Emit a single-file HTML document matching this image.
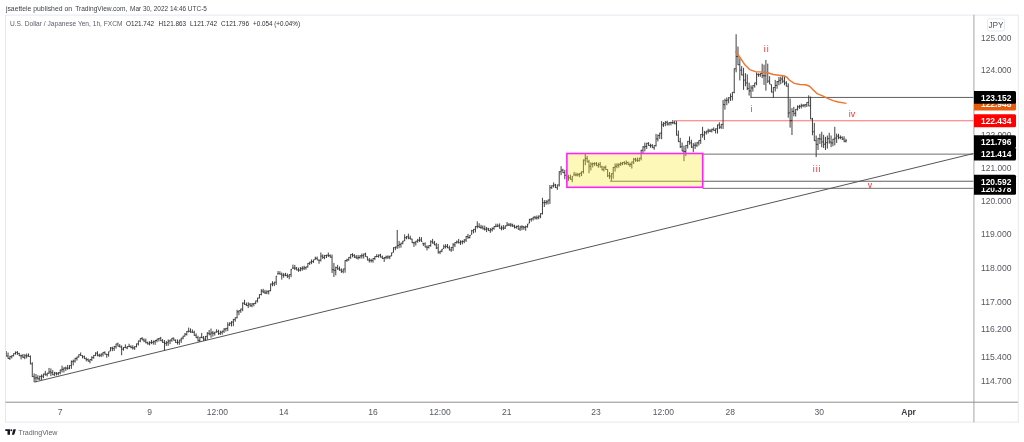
<!DOCTYPE html>
<html><head><meta charset="utf-8"><style>
html,body{margin:0;padding:0;background:#fff;width:1024px;height:442px;overflow:hidden;position:relative}
svg text{font-family:"Liberation Sans", sans-serif}
svg{will-change:transform}
</style></head><body>
<svg width="1024" height="442" viewBox="0 0 1024 442" style="position:absolute;left:0;top:0">
<rect x="5.5" y="15.1" width="1012.8" height="407.0" fill="#fff" stroke="#e6e8ef" stroke-width="1"/>
<text x="5.9" y="10.9" font-size="7.9" fill="#3d3f46" textLength="66.1" lengthAdjust="spacingAndGlyphs">jsaettele published on</text>
<text x="75.2" y="10.9" font-size="7.9" fill="#3d3f46" textLength="52.2" lengthAdjust="spacingAndGlyphs">TradingView.com,</text>
<text x="130.0" y="10.9" font-size="7.9" fill="#3d3f46" textLength="76.9" lengthAdjust="spacingAndGlyphs">Mar 30, 2022 14:46 UTC-5</text>
<text x="10" y="25.9" font-size="7.5" fill="#5d606b" textLength="112.5" lengthAdjust="spacingAndGlyphs">U.S. Dollar / Japanese Yen, 1h, FXCM</text>
<text x="126" y="25.9" font-size="7.5" fill="#2a2d35" textLength="28" lengthAdjust="spacingAndGlyphs">O121.742</text>
<text x="158.5" y="25.9" font-size="7.5" fill="#2a2d35" textLength="27.5" lengthAdjust="spacingAndGlyphs">H121.863</text>
<text x="190" y="25.9" font-size="7.5" fill="#2a2d35" textLength="27" lengthAdjust="spacingAndGlyphs">L121.742</text>
<text x="221" y="25.9" font-size="7.5" fill="#2a2d35" textLength="28" lengthAdjust="spacingAndGlyphs">C121.796</text>
<text x="253" y="25.9" font-size="7.5" fill="#2a2d35" textLength="47" lengthAdjust="spacingAndGlyphs">+0.054 (+0.04%)</text>
<line x1="973.9" y1="14.8" x2="973.9" y2="422.2" stroke="#b4b4b4" stroke-width="1.2"/>
<line x1="5.5" y1="402.2" x2="1018" y2="402.2" stroke="#8f8f8f" stroke-width="1"/>
<text x="981" y="41.00" font-size="8.3" fill="#55585f" textLength="30.5" lengthAdjust="spacingAndGlyphs">125.000</text>
<text x="981" y="73.05" font-size="8.3" fill="#55585f" textLength="30.5" lengthAdjust="spacingAndGlyphs">124.000</text>
<text x="981" y="137.93" font-size="8.3" fill="#55585f" textLength="30.5" lengthAdjust="spacingAndGlyphs">122.000</text>
<text x="981" y="170.77" font-size="8.3" fill="#55585f" textLength="30.5" lengthAdjust="spacingAndGlyphs">121.000</text>
<text x="981" y="203.88" font-size="8.3" fill="#55585f" textLength="30.5" lengthAdjust="spacingAndGlyphs">120.000</text>
<text x="981" y="237.27" font-size="8.3" fill="#55585f" textLength="30.5" lengthAdjust="spacingAndGlyphs">119.000</text>
<text x="981" y="270.94" font-size="8.3" fill="#55585f" textLength="30.5" lengthAdjust="spacingAndGlyphs">118.000</text>
<text x="981" y="304.90" font-size="8.3" fill="#55585f" textLength="30.5" lengthAdjust="spacingAndGlyphs">117.000</text>
<text x="981" y="332.27" font-size="8.3" fill="#55585f" textLength="30.5" lengthAdjust="spacingAndGlyphs">116.200</text>
<text x="981" y="359.84" font-size="8.3" fill="#55585f" textLength="30.5" lengthAdjust="spacingAndGlyphs">115.400</text>
<text x="981" y="384.11" font-size="8.3" fill="#55585f" textLength="30.5" lengthAdjust="spacingAndGlyphs">114.700</text>
<rect x="987.5" y="18.8" width="17" height="12.2" rx="2" fill="#fff" stroke="#e0e3eb" stroke-width="0.8"/>
<text x="996" y="28.2" font-size="8.3" fill="#55585f" text-anchor="middle">JPY</text>
<text x="60.2" y="415.0" font-size="8.5" fill="#55585f" text-anchor="middle">7</text>
<text x="149.7" y="415.0" font-size="8.5" fill="#55585f" text-anchor="middle">9</text>
<text x="217.4" y="415.0" font-size="8.5" fill="#55585f" text-anchor="middle">12:00</text>
<text x="283.8" y="415.0" font-size="8.5" fill="#55585f" text-anchor="middle">14</text>
<text x="373.0" y="415.0" font-size="8.5" fill="#55585f" text-anchor="middle">16</text>
<text x="440.0" y="415.0" font-size="8.5" fill="#55585f" text-anchor="middle">12:00</text>
<text x="506.8" y="415.0" font-size="8.5" fill="#55585f" text-anchor="middle">21</text>
<text x="596.1" y="415.0" font-size="8.5" fill="#55585f" text-anchor="middle">23</text>
<text x="663.4" y="415.0" font-size="8.5" fill="#55585f" text-anchor="middle">12:00</text>
<text x="730.2" y="415.0" font-size="8.5" fill="#55585f" text-anchor="middle">28</text>
<text x="819.2" y="415.0" font-size="8.5" fill="#55585f" text-anchor="middle">30</text>
<text x="908.6" y="415.0" font-size="8.5" font-weight="bold" fill="#3d3f46" text-anchor="middle">Apr</text>
<defs><clipPath id="cp"><rect x="6" y="15.3" width="967.4" height="386.4"/></clipPath></defs>
<g clip-path="url(#cp)">
<line x1="750.6" y1="97.43" x2="974" y2="97.43" stroke="#5f5f5f" stroke-width="1"/>
<line x1="674.6" y1="120.76" x2="974" y2="120.76" stroke="#ff6e6e" stroke-width="1"/>
<line x1="702.7" y1="154.14" x2="974" y2="154.14" stroke="#6f6f6f" stroke-width="1"/>
<line x1="609.9" y1="181.24" x2="974" y2="181.24" stroke="#5f5f5f" stroke-width="1"/>
<line x1="702.7" y1="188.33" x2="974" y2="188.33" stroke="#6f6f6f" stroke-width="1"/>
<line x1="34.5" y1="382.1" x2="974" y2="153.4" stroke="#555" stroke-width="1"/>
<path d="M6.20 351.04V356.38M5.30 353.71H6.20M6.20 356.08H7.10M8.06 352.57V358.74M7.16 356.08H8.06M8.06 358.44H8.96M9.93 355.72V359.90M9.03 358.44H9.93M9.93 356.64H10.83M11.79 355.35V358.47M10.89 356.64H11.79M11.79 355.65H12.69M13.65 353.30V356.38M12.75 355.65H13.65M13.65 353.60H14.55M15.51 351.45V354.60M14.61 353.60H15.51M15.51 352.41H16.41M17.37 351.04V354.97M16.47 352.41H17.37M17.37 353.45H18.27M19.24 352.80V356.08M18.34 353.45H19.24M19.24 355.78H20.14M21.10 354.59V359.47M20.20 355.78H21.10M21.10 355.89H22.00M22.96 353.91V358.18M22.06 355.89H22.96M22.96 357.31H23.86M24.82 354.09V359.24M23.92 357.31H24.82M24.82 355.77H25.72M26.68 353.52V358.40M25.78 355.77H26.68M26.68 355.88H27.58M28.55 353.46V356.77M27.65 355.88H28.55M28.55 356.47H29.45M30.41 355.45V364.21M29.51 356.47H30.41M30.41 363.91H31.31M32.27 362.21V376.89M31.37 363.91H32.27M32.27 376.59H33.17M34.13 373.38V382.19M33.23 376.59H34.13M34.13 378.00H35.03M35.99 374.03V381.77M35.09 378.00H35.99M35.99 377.83H36.89M37.86 375.24V379.85M36.96 377.83H37.86M37.86 378.80H38.76M39.72 375.73V380.23M38.82 378.80H39.72M39.72 376.40H40.62M41.58 374.44V379.99M40.68 376.40H41.58M41.58 376.19H42.48M43.44 373.75V378.15M42.54 376.19H43.44M43.44 374.05H44.34M45.30 370.87V375.62M44.40 374.05H45.30M45.30 374.68H46.20M47.17 372.90V376.44M46.27 374.68H47.17M47.17 373.20H48.07M49.03 367.94V374.04M48.13 373.20H49.03M49.03 371.86H49.93M50.89 368.44V376.14M49.99 371.86H50.89M50.89 372.70H51.79M52.75 370.08V375.24M51.85 372.70H52.75M52.75 374.73H53.65M54.61 371.92V375.84M53.71 374.73H54.61M54.61 373.00H55.51M56.48 372.11V375.45M55.58 373.00H56.48M56.48 373.70H57.38M58.34 372.17V375.26M57.44 373.70H58.34M58.34 372.59H59.24M60.20 369.64V374.32M59.30 372.59H60.20M60.20 370.02H61.10M62.06 365.66V372.52M61.16 370.02H62.06M62.06 369.32H62.96M63.92 367.35V372.50M63.02 369.32H63.92M63.92 368.02H64.82M65.79 366.63V370.91M64.89 368.02H65.79M65.79 368.25H66.69M67.65 364.94V369.79M66.75 368.25H67.65M67.65 368.15H68.55M69.51 365.18V369.23M68.61 368.15H69.51M69.51 365.48H70.41M71.37 360.47V368.85M70.47 365.48H71.37M71.37 361.64H72.27M73.23 359.58V365.48M72.33 361.64H73.23M73.23 361.05H74.13M75.10 357.80V362.60M74.20 361.05H75.10M75.10 358.42H76.00M76.96 356.72V360.57M76.06 358.42H76.96M76.96 357.02H77.86M78.82 354.41V357.46M77.92 357.02H78.82M78.82 354.71H79.72M80.68 352.48V355.85M79.78 354.71H80.68M80.68 355.55H81.58M82.54 355.29V358.42M81.64 355.59H82.54M82.54 356.66H83.44M84.41 355.70V358.98M83.51 356.66H84.41M84.41 358.68H85.31M86.27 357.43V361.29M85.37 358.68H86.27M86.27 359.53H87.17M88.13 358.50V361.68M87.23 359.53H88.13M88.13 361.06H89.03M89.99 359.15V363.35M89.09 361.06H89.99M89.99 359.45H90.89M91.85 356.23V361.03M90.95 359.45H91.85M91.85 357.58H92.75M93.72 355.12V358.73M92.82 357.58H93.72M93.72 355.42H94.62M95.58 352.29V356.08M94.68 355.42H95.58M95.58 353.19H96.48M97.44 351.20V356.31M96.54 353.19H97.44M97.44 355.24H98.34M99.30 353.75V357.14M98.40 355.24H99.30M99.30 355.28H100.20M101.16 353.49V357.01M100.26 355.28H101.16M101.16 354.00H102.06M103.03 352.09V356.38M102.13 354.00H103.03M103.03 352.39H103.93M104.89 351.41V354.42M103.99 352.39H104.89M104.89 354.12H105.79M106.75 353.90V357.72M105.85 354.20H106.75M106.75 354.55H107.65M108.61 351.56V356.65M107.71 354.55H108.61M108.61 351.86H109.51M110.47 347.08V351.22M109.57 350.92H110.47M110.47 348.00H111.37M112.34 346.67V351.16M111.44 348.00H112.34M112.34 348.55H113.24M114.20 345.94V350.92M113.30 348.55H114.20M114.20 346.66H115.10M116.06 343.69V348.61M115.16 346.66H116.06M116.06 343.99H116.96M117.92 342.61V346.48M117.02 343.99H117.92M117.92 346.18H118.82M119.78 344.07V347.30M118.88 346.18H119.78M119.78 347.00H120.68M121.65 345.47V355.23M120.75 347.00H121.65M121.65 349.11H122.55M123.51 347.18V350.64M122.61 349.11H123.51M123.51 347.48H124.41M125.37 344.37V348.12M124.47 347.48H125.37M125.37 347.82H126.27M127.23 346.28V349.28M126.33 347.82H127.23M127.23 346.58H128.13M129.09 343.71V346.94M128.19 346.58H129.09M129.09 346.60H129.99M130.96 345.23V348.29M130.06 346.60H130.96M130.96 347.58H131.86M132.82 345.24V349.59M131.92 347.58H132.82M132.82 347.95H133.72M134.68 346.32V349.88M133.78 347.95H134.68M134.68 346.62H135.58M136.54 343.55V347.35M135.64 346.62H136.54M136.54 343.85H137.44M138.40 340.66V345.53M137.50 343.85H138.40M138.40 340.96H139.30M140.27 338.19V342.21M139.37 340.96H140.27M140.27 338.49H141.17M142.13 337.00V340.19M141.23 338.49H142.13M142.13 339.89H143.03M143.99 338.37V342.12M143.09 339.89H143.99M143.99 341.04H144.89M145.85 338.65V343.47M144.95 341.04H145.85M145.85 342.60H146.75M147.71 341.61V344.66M146.81 342.60H147.71M147.71 343.81H148.61M149.58 341.20V345.36M148.68 343.81H149.58M149.58 342.58H150.48M151.44 339.92V344.12M150.54 342.58H151.44M151.44 342.44H152.34M153.30 340.44V344.60M152.40 342.44H153.30M153.30 341.76H154.20M155.16 339.95V344.85M154.26 341.76H155.16M155.16 340.49H156.06M157.02 338.76V342.34M156.12 340.49H157.02M157.02 339.06H157.92M158.89 338.01V341.38M157.99 339.06H158.89M158.89 338.31H159.79M160.75 336.90V341.07M159.85 338.31H160.75M160.75 340.77H161.65M162.61 339.04V342.77M161.71 340.77H162.61M162.61 342.47H163.51M164.47 340.09V350.59M163.57 342.47H164.47M164.47 343.44H165.37M166.33 341.12V346.00M165.43 343.44H166.33M166.33 342.70H167.23M168.20 339.49V345.87M167.30 342.70H168.20M168.20 341.02H169.10M170.06 339.75V344.13M169.16 341.02H170.06M170.06 340.08H170.96M171.92 337.92V341.70M171.02 340.08H171.92M171.92 338.24H172.82M173.78 337.54V340.60M172.88 338.24H173.78M173.78 340.30H174.68M175.64 339.33V342.90M174.74 340.30H175.64M175.64 342.53H176.54M177.51 339.42V344.53M176.61 342.53H177.51M177.51 342.31H178.41M179.37 339.76V344.82M178.47 342.31H179.37M179.37 340.06H180.27M181.23 337.80V342.90M180.33 340.06H181.23M181.23 338.10H182.13M183.09 335.84V339.33M182.19 338.10H183.09M183.09 336.14H183.99M184.95 333.07V336.50M184.05 336.14H184.95M184.95 334.19H185.85M186.82 331.10V335.48M185.92 334.19H186.82M186.82 331.40H187.72M188.68 327.61V332.46M187.78 331.40H188.68M188.68 331.28H189.58M190.54 328.35V332.79M189.64 331.28H190.54M190.54 332.10H191.44M192.40 329.51V332.70M191.50 332.10H192.40M192.40 332.40H193.30M194.26 330.69V335.69M193.36 332.40H194.26M194.26 335.39H195.16M196.13 333.36V338.01M195.23 335.39H196.13M196.13 337.71H197.03M197.99 335.81V341.58M197.09 337.71H197.99M197.99 340.47H198.89M199.85 337.02V342.00M198.95 340.47H199.85M199.85 337.32H200.75M201.71 332.91V338.05M200.81 337.32H201.71M201.71 337.75H202.61M203.57 336.07V340.77M202.67 337.75H203.57M203.57 339.17H204.47M205.44 336.04V340.64M204.54 339.17H205.44M205.44 336.34H206.34M207.30 332.14V339.68M206.40 336.34H207.30M207.30 333.27H208.20M209.16 330.01V335.38M208.26 333.27H209.16M209.16 334.03H210.06M211.02 328.53V337.81M210.12 334.03H211.02M211.02 332.90H211.92M212.88 330.94V336.60M211.98 332.90H212.88M212.88 333.41H213.78M214.75 331.83V335.60M213.85 333.41H214.75M214.75 332.13H215.65M216.61 329.23V332.51M215.71 332.13H216.61M216.61 331.65H217.51M218.47 329.77V334.90M217.57 331.65H218.47M218.47 333.60H219.37M220.33 330.73V334.89M219.43 333.60H220.33M220.33 332.25H221.23M222.19 330.72V334.67M221.29 332.25H222.19M222.19 331.17H223.09M224.06 328.13V332.95M223.16 331.17H224.06M224.06 329.07H224.96M225.92 328.01V331.56M225.02 329.07H225.92M225.92 328.31H226.82M227.78 322.28V330.99M226.88 328.31H227.78M227.78 324.93H228.68M229.64 322.30V325.87M228.74 324.93H229.64M229.64 323.22H230.54M231.50 321.16V326.46M230.60 323.22H231.50M231.50 322.05H232.40M233.37 318.82V326.23M232.47 322.05H233.37M233.37 319.59H234.27M235.23 317.44V321.72M234.33 319.59H235.23M235.23 317.74H236.13M237.09 309.79V318.36M236.19 317.74H237.09M237.09 311.85H237.99M238.95 310.37V315.19M238.05 311.85H238.95M238.95 310.67H239.85M240.81 308.71V312.87M239.91 310.67H240.81M240.81 309.01H241.71M242.68 302.38V311.21M241.78 309.01H242.68M242.68 303.17H243.58M244.54 299.80V304.80M243.64 303.17H244.54M244.54 304.50H245.44M246.40 302.52V305.90M245.50 304.50H246.40M246.40 305.60H247.30M248.26 302.24V307.98M247.36 305.60H248.26M248.26 304.16H249.16M250.12 302.97V306.68M249.22 304.16H250.12M250.12 305.77H251.02M251.99 303.09V307.31M251.09 305.77H251.99M251.99 303.93H252.89M253.85 303.08V306.32M252.95 303.93H253.85M253.85 303.38H254.75M255.71 300.66V304.21M254.81 303.38H255.71M255.71 300.96H256.61M257.57 297.77V302.47M256.67 300.96H257.57M257.57 298.07H258.47M259.43 294.19V298.42M258.53 298.07H259.43M259.43 294.49H260.33M261.30 289.14V295.42M260.40 294.49H261.30M261.30 291.08H262.20M263.16 288.80V293.14M262.26 291.08H263.16M263.16 292.09H264.06M265.02 289.87V294.00M264.12 292.09H265.02M265.02 292.96H265.92M266.88 290.20V294.20M265.98 292.96H266.88M266.88 291.61H267.78M268.74 290.38V294.43M267.84 291.61H268.74M268.74 290.68H269.64M270.61 283.65V291.24M269.71 290.68H270.61M270.61 283.98H271.51M272.47 281.19V286.26M271.57 283.98H272.47M272.47 283.76H273.37M274.33 281.86V286.09M273.43 283.76H274.33M274.33 282.16H275.23M276.19 275.96V284.87M275.29 282.16H276.19M276.19 276.26H277.09M278.05 271.02V274.28M277.15 273.98H278.05M278.05 273.78H278.95M279.92 271.22V274.38M279.02 273.78H279.92M279.92 274.08H280.82M281.78 272.54V279.63M280.88 274.08H281.78M281.78 275.13H282.68M283.64 273.05V277.77M282.74 275.13H283.64M283.64 275.03H284.54M285.50 272.83V276.17M284.60 275.03H285.50M285.50 275.59H286.40M287.36 273.48V277.93M286.46 275.59H287.36M287.36 276.13H288.26M289.23 274.31V279.25M288.33 276.13H289.23M289.23 274.61H290.13M291.09 269.09V277.18M290.19 274.61H291.09M291.09 269.39H291.99M292.95 264.61V268.49M292.05 268.19H292.95M292.95 268.15H293.85M294.81 264.92V270.10M293.91 268.15H294.81M294.81 268.15H295.71M296.67 266.97V270.32M295.77 268.15H296.67M296.67 270.01H297.57M298.54 267.66V271.80M297.64 270.01H298.54M298.54 270.15H299.44M300.40 267.00V271.36M299.50 270.15H300.40M300.40 268.69H301.30M302.26 266.23V270.82M301.36 268.69H302.26M302.26 268.21H303.16M304.12 265.77V269.99M303.22 268.21H304.12M304.12 267.78H305.02M305.98 266.64V269.68M305.08 267.78H305.98M305.98 266.94H306.88M307.85 263.06V267.44M306.95 266.94H307.85M307.85 263.36H308.75M309.71 261.79V264.94M308.81 263.36H309.71M309.71 262.09H310.61M311.57 259.41V264.14M310.67 262.09H311.57M311.57 261.57H312.47M313.43 259.73V262.96M312.53 261.57H313.43M313.43 260.03H314.33M315.29 256.65V259.74M314.39 259.44H315.29M315.29 258.39H316.19M317.16 256.56V260.16M316.26 258.39H317.16M317.16 259.86H318.06M319.02 259.84V263.77M318.12 260.14H319.02M319.02 260.14H319.92M320.88 252.49V261.46M319.98 260.14H320.88M320.88 256.10H321.78M322.74 254.37V258.92M321.84 256.10H322.74M322.74 257.39H323.64M324.60 254.95V259.21M323.70 257.39H324.60M324.60 255.50H325.50M326.47 254.86V258.05M325.57 255.50H326.47M326.47 255.16H327.37M328.33 252.54V257.06M327.43 255.16H328.33M328.33 255.61H329.23M330.19 254.32V257.48M329.29 255.61H330.19M330.19 257.18H331.09M332.05 254.58V273.00M331.15 257.18H332.05M332.05 269.68H332.95M333.91 262.91V277.03M333.01 269.68H333.91M333.91 270.40H334.81M335.78 266.60V275.31M334.88 270.40H335.78M335.78 267.53H336.68M337.64 264.87V269.86M336.74 267.53H337.64M337.64 268.84H338.54M339.50 266.55V270.77M338.60 268.84H339.50M339.50 270.04H340.40M341.36 268.37V272.89M340.46 270.04H341.36M341.36 271.29H342.26M343.22 268.76V273.32M342.32 271.29H343.22M343.22 269.06H344.12M345.09 260.25V272.68M344.19 269.06H345.09M345.09 260.55H345.99M346.95 258.72V261.83M346.05 260.55H346.95M346.95 259.78H347.85M348.81 257.06V260.75M347.91 259.78H348.81M348.81 257.36H349.71M350.67 254.22V258.89M349.77 257.36H350.67M350.67 254.52H351.57M352.53 253.17V257.27M351.63 254.52H352.53M352.53 255.30H353.43M354.40 254.23V257.99M353.50 255.30H354.40M354.40 257.14H355.30M356.26 255.09V258.64M355.36 257.14H356.26M356.26 258.03H357.16M358.12 254.98V259.59M357.22 258.03H358.12M358.12 257.50H359.02M359.98 255.22V258.64M359.08 257.50H359.98M359.98 255.86H360.88M361.84 253.53V258.58M360.94 255.86H361.84M361.84 255.63H362.74M363.71 253.70V258.50M362.81 255.63H363.71M363.71 254.00H364.61M365.57 252.69V256.78M364.67 254.00H365.57M365.57 256.48H366.47M367.43 256.49V260.35M366.53 256.79H367.43M367.43 260.05H368.33M369.29 258.01V262.53M368.39 260.05H369.29M369.29 260.37H370.19M371.15 258.79V262.54M370.25 260.37H371.15M371.15 260.68H372.05M373.02 258.11V262.67M372.12 260.68H373.02M373.02 258.41H373.92M374.88 256.24V260.13M373.98 258.41H374.88M374.88 256.57H375.78M376.74 254.13V257.25M375.84 256.57H376.74M376.74 256.52H377.64M378.60 254.47V257.63M377.70 256.52H378.60M378.60 255.13H379.50M380.46 253.86V257.42M379.56 255.13H380.46M380.46 257.12H381.36M382.33 255.58V258.77M381.43 257.12H382.33M382.33 258.47H383.23M384.19 257.06V261.98M383.29 258.47H384.19M384.19 257.55H385.09M386.05 255.68V259.30M385.15 257.55H386.05M386.05 256.94H386.95M387.91 255.31V258.95M387.01 256.94H387.91M387.91 256.96H388.81M389.77 255.81V259.16M388.87 256.96H389.77M389.77 256.11H390.67M391.64 252.59V256.17M390.74 255.87H391.64M391.64 252.89H392.54M393.50 247.35V252.49M392.60 252.19H393.50M393.50 247.65H394.40M395.36 246.67V250.21M394.46 247.65H395.36M395.36 246.97H396.26M397.22 229.95V248.88M396.32 246.97H397.22M397.22 245.48H398.12M399.08 240.91V248.29M398.18 245.48H399.08M399.08 244.55H399.98M400.95 242.83V247.70M400.05 244.55H400.95M400.95 243.13H401.85M402.81 240.88V244.32M401.91 243.13H402.81M402.81 241.18H403.71M404.67 234.40V241.10M403.77 240.80H404.67M404.67 237.72H405.57M406.53 236.11V239.30M405.63 237.72H406.53M406.53 236.73H407.43M408.39 233.68V239.21M407.49 236.73H408.39M408.39 238.12H409.29M410.26 235.66V239.33M409.36 238.12H410.26M410.26 239.03H411.16M412.12 238.75V243.04M411.22 239.05H412.12M412.12 242.74H413.02M413.98 241.71V246.93M413.08 242.74H413.98M413.98 242.79H414.88M415.84 240.90V245.48M414.94 242.79H415.84M415.84 241.20H416.74M417.70 238.86V242.72M416.80 241.20H417.70M417.70 240.22H418.60M419.57 236.86V242.02M418.67 240.22H419.57M419.57 240.01H420.47M421.43 237.15V241.74M420.53 240.01H421.43M421.43 241.44H422.33M423.29 242.87V245.97M422.39 243.17H423.29M423.29 243.85H424.19M425.15 242.36V247.32M424.25 243.85H425.15M425.15 247.02H426.05M427.01 245.45V250.41M426.11 247.02H427.01M427.01 247.34H427.91M428.88 245.20V248.51M427.98 247.34H428.88M428.88 245.50H429.78M430.74 240.25V246.72M429.84 245.50H430.74M430.74 241.74H431.64M432.60 238.87V243.64M431.70 241.74H432.60M432.60 242.96H433.50M434.46 240.92V245.20M433.56 242.96H434.46M434.46 244.90H435.36M436.32 242.88V249.11M435.42 244.90H436.32M436.32 247.96H437.22M438.19 243.79V253.71M437.29 247.96H438.19M438.19 252.03H439.09M440.05 250.92V254.21M439.15 252.03H440.05M440.05 251.22H440.95M441.91 249.03V252.26M441.01 251.22H441.91M441.91 249.33H442.81M443.77 244.61V248.84M442.87 248.54H443.77M443.77 246.78H444.67M445.63 244.09V248.47M444.73 246.78H445.63M445.63 246.46H446.53M447.50 244.03V248.11M446.60 246.46H447.50M447.50 247.81H448.40M449.36 245.68V250.44M448.46 247.81H449.36M449.36 249.91H450.26M451.22 247.12V251.87M450.32 249.91H451.22M451.22 247.42H452.12M453.08 243.07V250.91M452.18 247.42H453.08M453.08 244.77H453.98M454.94 242.24V247.09M454.04 244.77H454.94M454.94 242.54H455.84M456.81 240.51V243.67M455.91 242.54H456.81M456.81 241.83H457.71M458.67 238.95V243.56M457.77 241.83H458.67M458.67 242.67H459.57M460.53 240.31V244.94M459.63 242.67H460.53M460.53 241.83H461.43M462.39 240.25V244.34M461.49 241.83H462.39M462.39 241.49H463.29M464.25 239.18V243.23M463.35 241.49H464.25M464.25 239.96H465.15M466.12 236.14V241.91M465.22 239.96H466.12M466.12 236.44H467.02M467.98 233.98V238.94M467.08 236.44H467.98M467.98 237.50H468.88M469.84 235.08V238.41M468.94 237.50H469.84M469.84 235.38H470.74M471.70 229.91V234.54M470.80 234.24H471.70M471.70 230.74H472.60M473.56 229.09V233.34M472.66 230.74H473.56M473.56 229.39H474.46M475.43 226.17V232.43M474.53 229.39H475.43M475.43 226.47H476.33M477.29 221.36V228.51M476.39 226.47H477.29M477.29 226.37H478.19M479.15 223.24V227.73M478.25 226.37H479.15M479.15 227.38H480.05M481.01 224.82V228.96M480.11 227.38H481.01M481.01 227.15H481.91M482.87 225.49V229.51M481.97 227.15H482.87M482.87 228.87H483.77M484.74 225.63V230.60M483.84 228.87H484.74M484.74 229.22H485.64M486.60 226.98V232.14M485.70 229.22H486.60M486.60 228.87H487.50M488.46 227.87V230.91M487.56 228.87H488.46M488.46 230.61H489.36M490.32 228.05V232.86M489.42 230.61H490.32M490.32 229.74H491.22M492.18 227.48V231.47M491.28 229.74H492.18M492.18 228.40H493.08M494.05 226.28V229.74M493.15 228.40H494.05M494.05 226.58H494.95M495.91 223.68V227.15M495.01 226.58H495.91M495.91 226.29H496.81M497.77 223.68V226.99M496.87 226.29H497.77M497.77 225.95H498.67M499.63 223.46V228.56M498.73 225.95H499.63M499.63 228.26H500.53M501.49 225.57V230.37M500.59 228.26H501.49M501.49 227.94H502.39M503.36 225.07V230.02M502.46 227.94H503.36M503.36 228.04H504.26M505.22 225.57V229.08M504.32 228.04H505.22M505.22 225.87H506.12M507.08 222.04V226.11M506.18 225.81H507.08M507.08 224.96H507.98M508.94 223.00V226.01M508.04 224.96H508.94M508.94 225.06H509.84M510.80 222.93V226.92M509.90 225.06H510.80M510.80 224.96H511.70M512.67 223.69V227.00M511.77 224.96H512.67M512.67 226.02H513.57M514.53 224.74V228.44M513.63 226.02H514.53M514.53 227.39H515.43M516.39 225.64V228.65M515.49 227.39H516.39M516.39 226.49H517.29M518.25 224.91V229.75M517.35 226.49H518.25M518.25 229.12H519.15M520.11 225.78V230.82M519.21 229.12H520.11M520.11 226.99H521.01M521.98 225.21V230.20M521.08 226.99H521.98M521.98 226.90H522.88M523.84 225.94V229.76M522.94 226.90H523.84M523.84 227.34H524.74M525.70 225.53V230.72M524.80 227.34H525.70M525.70 226.66H526.60M527.56 223.90V227.70M526.66 226.66H527.56M527.56 224.20H528.46M529.42 218.86V223.31M528.52 223.01H529.42M529.42 219.32H530.32M531.29 218.42V221.65M530.39 219.32H531.29M531.29 218.72H532.19M533.15 216.88V220.51M532.25 218.72H533.15M533.15 217.18H534.05M535.01 215.90V219.45M534.11 217.18H535.01M535.01 217.95H535.91M536.87 215.50V219.63M535.97 217.95H536.87M536.87 217.61H537.77M538.73 215.43V219.25M537.83 217.61H538.73M538.73 216.13H539.63M540.60 213.26V218.21M539.70 216.13H540.60M540.60 213.56H541.50M542.46 197.78V214.52M541.56 213.56H542.46M542.46 202.72H543.36M544.32 200.14V207.03M543.42 202.72H544.32M544.32 202.55H545.22M546.18 200.08V204.66M545.28 202.55H546.18M546.18 201.83H547.08M548.04 199.69V204.53M547.14 201.83H548.04M548.04 199.99H548.94M549.91 185.02V203.92M549.01 199.99H549.91M549.91 187.72H550.81M551.77 185.27V188.90M550.87 187.72H551.77M551.77 185.77H552.67M553.63 182.47V187.51M552.73 185.77H553.63M553.63 185.06H554.53M555.49 183.91V187.95M554.59 185.06H555.49M555.49 187.65H556.39M557.35 184.65V189.87M556.45 187.65H557.35M557.35 184.95H558.25M559.22 171.41V186.55M558.32 184.95H559.22M559.22 171.71H560.12M561.08 166.17V175.19M560.18 171.71H561.08M561.08 170.11H561.98M562.94 168.78V173.01M562.04 170.11H562.94M562.94 172.71H563.84M564.80 169.82V179.23M563.90 172.71H564.80M564.80 175.35H565.70M566.66 169.80V182.45M565.76 175.35H566.66M566.66 176.88H567.56M568.53 174.81V180.81M567.63 176.88H568.53M568.53 177.77H569.43M570.39 174.58V179.58M569.49 177.77H570.39M570.39 179.28H571.29M572.25 176.12V182.17M571.35 179.28H572.25M572.25 176.42H573.15M574.11 171.92V175.34M573.21 175.04H574.11M574.11 175.04H575.01M575.97 172.58V176.33M575.07 175.04H575.97M575.97 174.88H576.87M577.84 172.85V176.38M576.94 174.88H577.84M577.84 174.65H578.74M579.70 172.95V177.20M578.80 174.65H579.70M579.70 173.25H580.60M581.56 171.40V176.05M580.66 173.25H581.56M581.56 171.70H582.46M583.42 159.49V173.56M582.52 171.70H583.42M583.42 160.14H584.32M585.28 154.01V165.24M584.38 160.14H585.28M585.28 158.46H586.18M587.15 155.90V162.19M586.25 158.46H587.15M587.15 161.89H588.05M589.01 159.89V173.26M588.11 161.89H589.01M589.01 166.25H589.91M590.87 162.36V170.45M589.97 166.25H590.87M590.87 164.05H591.77M592.73 162.56V167.46M591.83 164.05H592.73M592.73 163.57H593.63M594.59 162.25V165.85M593.69 163.57H594.59M594.59 163.62H595.49M596.46 162.11V165.99M595.56 163.62H596.46M596.46 165.61H597.36M598.32 162.63V167.73M597.42 165.61H598.32M598.32 164.38H599.22M600.18 161.96V167.33M599.28 164.38H600.18M600.18 167.03H601.08M602.04 165.78V170.47M601.14 167.03H602.04M602.04 169.67H602.94M603.90 166.05V171.44M603.00 169.67H603.90M603.90 167.65H604.80M605.77 165.49V169.79M604.87 167.65H605.77M605.77 169.49H606.67M607.63 169.22V177.06M606.73 169.52H607.63M607.63 175.75H608.53M609.49 172.06V178.96M608.59 175.75H609.49M609.49 176.18H610.39M611.35 173.41V180.82M610.45 176.18H611.35M611.35 173.71H612.25M613.21 167.05V178.78M612.31 173.71H613.21M613.21 167.40H614.11M615.08 163.44V171.62M614.18 167.40H615.08M615.08 166.26H615.98M616.94 163.17V168.25M616.04 166.26H616.94M616.94 165.14H617.84M618.80 163.23V167.66M617.90 165.14H618.80M618.80 164.37H619.70M620.66 161.96V165.97M619.76 164.37H620.66M620.66 163.63H621.56M622.52 162.01V165.10M621.62 163.63H622.52M622.52 162.46H623.42M624.39 161.27V164.78M623.49 162.46H624.39M624.39 163.48H625.29M626.25 160.54V164.96M625.35 163.48H626.25M626.25 162.54H627.15M628.11 161.72V165.00M627.21 162.54H628.11M628.11 164.70H629.01M629.97 162.57V166.97M629.07 164.70H629.97M629.97 164.43H630.87M631.83 161.64V168.54M630.93 164.43H631.83M631.83 161.94H632.73M633.70 158.04V164.05M632.80 161.94H633.70M633.70 159.20H634.60M635.56 157.87V161.73M634.66 159.20H635.56M635.56 160.18H636.46M637.42 157.50V161.82M636.52 160.18H637.42M637.42 160.65H638.32M639.28 157.87V161.53M638.38 160.65H639.28M639.28 158.17H640.18M641.14 149.92V160.40M640.24 158.17H641.14M641.14 150.22H642.04M643.01 146.06V153.69M642.11 150.22H643.01M643.01 146.99H643.91M644.87 142.58V151.42M643.97 146.99H644.87M644.87 146.43H645.77M646.73 142.77V148.90M645.83 146.43H646.73M646.73 143.35H647.63M648.59 142.14V145.82M647.69 143.35H648.59M648.59 145.52H649.49M650.45 143.67V147.76M649.55 145.52H650.45M650.45 145.71H651.35M652.32 144.06V147.98M651.42 145.71H652.32M652.32 147.68H653.22M654.18 145.30V149.77M653.28 147.68H654.18M654.18 145.60H655.08M656.04 133.89V146.52M655.14 145.60H656.04M656.04 138.88H656.94M657.90 134.51V141.48M657.00 138.88H657.90M657.90 135.43H658.80M659.76 132.83V138.90M658.86 135.43H659.76M659.76 133.13H660.66M661.63 121.10V139.17M660.73 133.13H661.63M661.63 124.93H662.53M663.49 122.14V126.92M662.59 124.93H663.49M663.49 123.60H664.39M665.35 121.04V126.17M664.45 123.60H665.35M665.35 122.33H666.25M667.21 120.71V125.51M666.31 122.33H667.21M667.21 124.09H668.11M669.07 122.07V125.56M668.17 124.09H669.07M669.07 122.74H669.97M670.94 121.76V125.40M670.04 122.74H670.94M670.94 122.64H671.84M672.80 120.02V124.11M671.90 122.64H672.80M672.80 122.78H673.70M674.66 120.64V124.13M673.76 122.78H674.66M674.66 123.83H675.56M676.52 121.17V135.47M675.62 123.83H676.52M676.52 135.17H677.42M678.38 130.55V141.90M677.48 135.17H678.38M678.38 141.60H679.28M680.25 137.88V147.99M679.35 141.60H680.25M680.25 146.73H681.15M682.11 142.53V151.33M681.21 146.73H682.11M682.11 151.03H683.01M683.97 145.64V161.20M683.07 151.03H683.97M683.97 151.44H684.87M685.83 145.15V156.17M684.93 151.44H685.83M685.83 145.45H686.73M687.69 140.91V148.47M686.79 145.45H687.69M687.69 141.38H688.59M689.56 136.43V144.76M688.66 141.38H689.56M689.56 142.84H690.46M691.42 139.71V147.87M690.52 142.84H691.42M691.42 147.10H692.32M693.28 143.06V152.32M692.38 147.10H693.28M693.28 145.22H694.18M695.14 142.37V149.03M694.24 145.22H695.14M695.14 145.31H696.04M697.00 141.96V147.06M696.10 145.31H697.00M697.00 142.90H697.90M698.87 140.19V145.60M697.97 142.90H698.87M698.87 140.49H699.77M700.73 134.09V143.88M699.83 140.49H700.73M700.73 134.39H701.63M702.59 126.82V137.69M701.69 134.39H702.59M702.59 134.97H703.49M704.45 130.91V140.10M703.55 134.97H704.45M704.45 132.63H705.35M706.31 130.82V134.61M705.41 132.63H706.31M706.31 131.13H707.21M708.18 128.67V133.47M707.28 131.13H708.18M708.18 131.06H709.08M710.04 128.99V132.10M709.14 131.06H710.04M710.04 131.05H710.94M711.90 128.63V132.45M711.00 131.05H711.90M711.90 129.36H712.80M713.76 127.36V130.78M712.86 129.36H713.76M713.76 130.48H714.66M715.62 128.49V133.46M714.72 130.48H715.62M715.62 128.79H716.52M717.49 124.59V133.55M716.59 128.79H717.49M717.49 124.95H718.39M719.35 122.32V128.97M718.45 124.95H719.35M719.35 127.13H720.25M721.21 124.06V128.83M720.31 127.13H721.21M721.21 124.36H722.11M723.07 99.94V128.93M722.17 124.36H723.07M723.07 104.62H723.97M724.93 98.63V109.65M724.03 104.62H724.93M724.93 100.67H725.83M726.80 97.43V105.24M725.90 100.67H726.80M726.80 100.09H727.70M728.66 97.12V103.31M727.76 100.09H728.66M728.66 97.74H729.56M730.52 93.47V100.93M729.62 97.74H730.52M730.52 96.45H731.42M732.38 92.04V100.54M731.48 96.45H732.38M732.38 92.34H733.28M734.24 68.45V93.28M733.34 92.34H734.24M734.24 68.75H735.14M736.11 34.24V72.32M735.21 68.75H736.11M736.11 56.57H737.01M737.97 46.53V65.06M737.07 56.57H737.97M737.97 64.76H738.87M739.83 58.38V80.44M738.93 64.76H739.83M739.83 70.08H740.73M741.69 66.10V75.30M740.79 70.08H741.69M741.69 75.00H742.59M743.55 67.81V89.83M742.65 75.00H743.55M743.55 80.12H744.45M745.42 73.19V86.24M744.52 80.12H745.42M745.42 82.90H746.32M747.28 74.34V90.09M746.38 82.90H747.28M747.28 88.41H748.18M749.14 82.60V95.61M748.24 88.41H749.14M749.14 90.85H750.04M751.00 85.40V97.69M750.10 90.85H751.00M751.00 87.95H751.90M752.86 85.26V91.64M751.96 87.95H752.86M752.86 85.56H753.76M754.73 82.65V87.68M753.83 85.56H754.73M754.73 82.95H755.63M756.59 72.41V85.24M755.69 82.95H756.59M756.59 74.37H757.49M758.45 73.34V76.77M757.55 74.37H758.45M758.45 74.66H759.35M760.31 73.23V76.78M759.41 74.66H760.31M760.31 73.53H761.21M762.17 63.78V78.16M761.27 73.53H762.17M762.17 75.78H763.07M764.04 64.74V84.91M763.14 75.78H764.04M764.04 75.78H764.94M765.90 59.96V90.69M765.00 75.78H765.90M765.90 72.56H766.80M767.76 63.67V83.04M766.86 72.56H767.76M767.76 81.16H768.66M769.62 76.15V84.33M768.72 81.16H769.62M769.62 84.03H770.52M771.48 84.47V92.42M770.58 84.77H771.48M771.48 92.12H772.38M773.35 87.23V97.51M772.45 92.12H773.35M773.35 87.53H774.25M775.21 79.89V91.48M774.31 87.53H775.21M775.21 85.47H776.11M777.07 80.99V88.78M776.17 85.47H777.07M777.07 81.58H777.97M778.93 76.97V85.26M778.03 81.58H778.93M778.93 80.33H779.83M780.79 76.68V84.25M779.89 80.33H780.79M780.79 78.94H781.69M782.66 75.92V83.19M781.76 78.94H782.66M782.66 81.17H783.56M784.52 76.49V85.30M783.62 81.17H784.52M784.52 83.04H785.42M786.38 81.13V86.52M785.48 83.04H786.38M786.38 86.22H787.28M788.24 83.28V117.74M787.34 86.22H788.24M788.24 112.87H789.14M790.10 98.53V127.66M789.20 112.87H790.10M790.10 120.62H791.00M791.97 108.10V135.00M791.07 120.62H791.97M791.97 111.38H792.87M793.83 106.85V116.32M792.93 111.38H793.83M793.83 113.34H794.73M795.69 109.00V116.53M794.79 113.34H795.69M795.69 109.30H796.59M797.55 105.36V110.54M796.65 109.30H797.55M797.55 106.85H798.45M799.41 104.83V108.87M798.51 106.85H799.41M799.41 106.29H800.31M801.28 103.61V108.45M800.38 106.29H801.28M801.28 105.64H802.18M803.14 104.17V107.26M802.24 105.64H803.14M803.14 105.15H804.04M805.00 104.23V107.50M804.10 105.15H805.00M805.00 104.77H805.90M806.86 102.11V107.02M805.96 104.77H806.86M806.86 102.41H807.76M808.72 95.33V106.22M807.82 102.41H808.72M808.72 105.92H809.62M810.59 96.57V119.22M809.69 105.92H810.59M810.59 118.92H811.49M812.45 117.87V135.29M811.55 118.92H812.45M812.45 131.79H813.35M814.31 122.90V140.95M813.41 131.79H814.31M814.31 140.65H815.21M816.17 135.60V157.11M815.27 140.65H816.17M816.17 144.39H817.07M818.03 137.79V149.98M817.13 144.39H818.03M818.03 138.76H818.93M819.90 133.83V144.01M819.00 138.76H819.90M819.90 138.94H820.80M821.76 131.77V147.20M820.86 138.94H821.76M821.76 141.86H822.66M823.62 134.83V148.00M822.72 141.86H823.62M823.62 144.19H824.52M825.48 136.89V149.96M824.58 144.19H825.48M825.48 142.62H826.38M827.34 135.56V148.59M826.44 142.62H827.34M827.34 138.60H828.24M829.21 132.74V143.65M828.31 138.60H829.21M829.21 142.04H830.11M831.07 135.50V147.17M830.17 142.04H831.07M831.07 142.93H831.97M832.93 138.87V146.26M832.03 142.93H832.93M832.93 139.17H833.83M834.79 126.80V145.25M833.89 139.17H834.79M834.79 138.17H835.69M836.65 133.58V142.95M835.75 138.17H836.65M836.65 136.16H837.55M838.52 133.82V139.25M837.62 136.16H838.52M838.52 137.60H839.42M840.38 135.40V139.30M839.48 137.60H840.38M840.38 137.41H841.28M842.24 136.37V140.05M841.34 137.41H842.24M842.24 139.05H843.14M844.10 136.24V142.18M843.20 139.05H844.10M844.10 141.21H845.00M845.96 138.75V142.53M845.06 141.21H845.96M845.96 140.64H846.86" fill="none" stroke="#2b2b2b" stroke-width="0.9"/>
<rect x="566.9" y="153.5" width="135.8" height="33.8" fill="rgba(249,230,40,0.33)" stroke="#ff22ff" stroke-width="1.6"/>
<polyline points="735.5,51.5 740.6,58.3 745.1,65.1 749.7,69.6 755.3,71.6 763.2,72.1 767.6,72.8 773.3,74.5 778.9,75.3 784.6,76.0 786.9,77.3 789.2,80.0 794.3,83.4 800.0,84.5 805.6,84.8 809.6,86.2 813.5,90.2 817.0,93.6 822.6,95.8 828.2,98.7 833.0,100.6 838.3,102.0 846.4,103.4" fill="none" stroke="#f07431" stroke-width="1.45" stroke-linejoin="round"/>
<text x="751.6" y="111.6" font-size="8.8" fill="#ff2a2a" text-anchor="middle" letter-spacing="0">i</text>
<text x="766.7" y="51.5" font-size="8.8" fill="#ff2a2a" text-anchor="middle" letter-spacing="0.9">ii</text>
<text x="817.1" y="171.8" font-size="8.8" fill="#ff2a2a" text-anchor="middle" letter-spacing="0.9">iii</text>
<text x="852.0" y="117.3" font-size="8.8" fill="#ff2a2a" text-anchor="middle" letter-spacing="0">iv</text>
<text x="870.0" y="187.6" font-size="8.8" fill="#ff2a2a" text-anchor="middle" letter-spacing="0">v</text>
</g>
<path d="M974 97.64 H1014.5 Q1016 97.64 1016 99.14 V108.94 Q1016 110.44 1014.5 110.44 H974 Z" fill="#e85a0c"/>
<text x="981.0" y="107.34" font-size="9.0" font-weight="bold" fill="#fff" textLength="30.4" lengthAdjust="spacingAndGlyphs">122.948</text>
<path d="M974 91.03 H1014.5 Q1016 91.03 1016 92.53 V102.33 Q1016 103.83 1014.5 103.83 H974 Z" fill="#000"/>
<text x="981.0" y="100.73" font-size="9.0" font-weight="bold" fill="#fff" textLength="30.4" lengthAdjust="spacingAndGlyphs">123.152</text>
<path d="M974 114.36 H1014.5 Q1016 114.36 1016 115.86 V125.66 Q1016 127.16 1014.5 127.16 H974 Z" fill="#ff0000"/>
<text x="981.0" y="124.06" font-size="9.0" font-weight="bold" fill="#fff" textLength="30.4" lengthAdjust="spacingAndGlyphs">122.434</text>
<path d="M974 147.74 H1014.5 Q1016 147.74 1016 149.24 V159.04 Q1016 160.54 1014.5 160.54 H974 Z" fill="#000"/>
<text x="981.0" y="157.44" font-size="9.0" font-weight="bold" fill="#fff" textLength="30.4" lengthAdjust="spacingAndGlyphs">121.414</text>
<path d="M974 135.21 H1014.5 Q1016 135.21 1016 136.71 V146.51 Q1016 148.01 1014.5 148.01 H974 Z" fill="#000"/>
<text x="981.0" y="144.91" font-size="9.0" font-weight="bold" fill="#fff" textLength="30.4" lengthAdjust="spacingAndGlyphs">121.796</text>
<path d="M974 181.93 H1014.5 Q1016 181.93 1016 183.43 V193.23 Q1016 194.73 1014.5 194.73 H974 Z" fill="#000"/>
<text x="981.0" y="191.63" font-size="9.0" font-weight="bold" fill="#fff" textLength="30.4" lengthAdjust="spacingAndGlyphs">120.378</text>
<path d="M974 174.84 H1014.5 Q1016 174.84 1016 176.34 V186.14 Q1016 187.64 1014.5 187.64 H974 Z" fill="#000"/>
<text x="981.0" y="184.54" font-size="9.0" font-weight="bold" fill="#fff" textLength="30.4" lengthAdjust="spacingAndGlyphs">120.592</text>
<g fill="#131722"><path d="M5.3 429.2 H10.0 V434.8 H7.5 V431.0 H5.3 Z"/><circle cx="11.3" cy="430.3" r="0.95"/><path d="M11.8 434.8 L13.4 429.2 H15.9 L14.2 434.8 Z"/></g>
<text x="18.4" y="434.8" font-size="7.8" fill="#62656d" textLength="39.1" lengthAdjust="spacingAndGlyphs">TradingView</text>
</svg>
</body></html>
